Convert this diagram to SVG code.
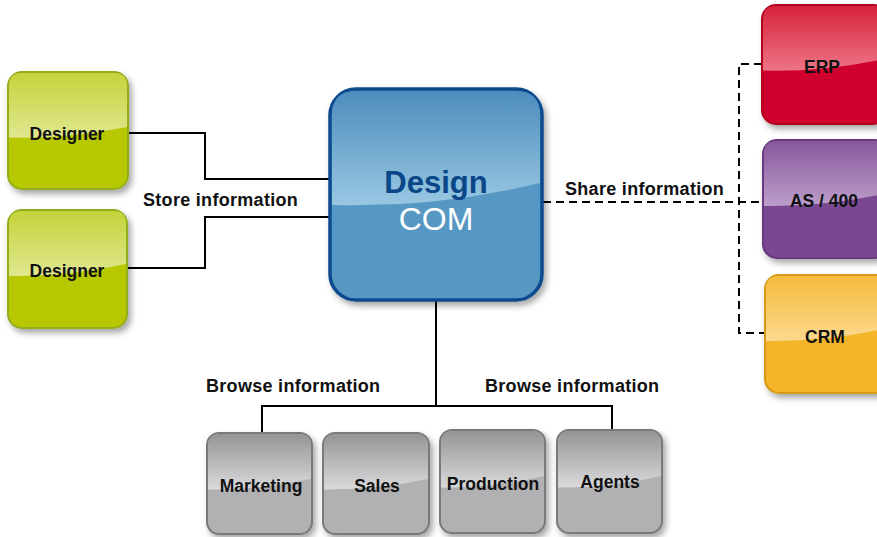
<svg xmlns="http://www.w3.org/2000/svg" width="877" height="537" viewBox="0 0 877 537">
<defs>
<filter id="sh" x="-20%" y="-20%" width="150%" height="150%"><feDropShadow dx="3" dy="4" stdDeviation="3" flood-color="#000" flood-opacity="0.35"/></filter>
<linearGradient id="gG" x1="0" y1="0" x2="0" y2="1"><stop offset="0" stop-color="#c5d33a"/><stop offset="1" stop-color="#e0e790"/></linearGradient>
<linearGradient id="gB" x1="0" y1="0" x2="0" y2="1"><stop offset="0" stop-color="#4d8dbd"/><stop offset="1" stop-color="#98c7e2"/></linearGradient>
<linearGradient id="gR" x1="0" y1="0" x2="0" y2="1"><stop offset="0" stop-color="#d6223c"/><stop offset="1" stop-color="#ec7585"/></linearGradient>
<linearGradient id="gP" x1="0" y1="0" x2="0" y2="1"><stop offset="0" stop-color="#87579c"/><stop offset="1" stop-color="#bc9ecb"/></linearGradient>
<linearGradient id="gO" x1="0" y1="0" x2="0" y2="1"><stop offset="0" stop-color="#f5bb3c"/><stop offset="1" stop-color="#fbd98e"/></linearGradient>
<linearGradient id="gS" x1="0" y1="0" x2="0" y2="1"><stop offset="0" stop-color="#959597"/><stop offset="1" stop-color="#dadadc"/></linearGradient>
<style>
.lbl{font-family:"Liberation Sans",Arial,sans-serif;font-weight:bold;font-size:17.5px;fill:#111;text-anchor:middle}
.cap{font-family:"Liberation Sans",Arial,sans-serif;font-weight:bold;font-size:18px;fill:#111;letter-spacing:0.3px}
.ln{fill:none;stroke:#000;stroke-width:2}
.dl{fill:none;stroke:#000;stroke-width:2;stroke-dasharray:8 5}
.green{fill:#b7c800;stroke:#93ad1c;stroke-width:2}
.red{fill:#d0062e;stroke:#b0001f;stroke-width:2}
.purple{fill:#7a4791;stroke:#69387f;stroke-width:2}
.orange{fill:#f4b52a;stroke:#d79a12;stroke-width:2}
.gray{fill:#b1b1b3;stroke:#7a7a7c;stroke-width:2}
</style>
</defs>
<rect width="877" height="537" fill="#fff"/>

<g id="connectors">
<polyline class="ln" points="128,133 205,133 205,179 331,179"/>
<polyline class="ln" points="127,268 205,268 205,217 331,217"/>
<polyline class="dl" points="543,202 762,202"/>
<polyline class="dl" points="762,64 739,64 739,333 764,333"/>
<polyline class="ln" points="436,300 436,406"/>
<polyline class="ln" points="262,433 262,406 612,406 612,430"/>
<text class="cap" x="143" y="206">Store information</text>
<text class="cap" x="565" y="195">Share information</text>
<text class="cap" x="206" y="392">Browse information</text>
<text class="cap" x="485" y="392">Browse information</text>
</g>

<g id="designer1">
<rect class="green" x="8" y="72" width="120" height="117" rx="14" filter="url(#sh)"/>
<path fill="url(#gG)" d="M9,137.5 V86 Q9,73 22,73 H114 Q127,73 127,86 V127 Q68,139 9,137.5 Z"/>
<text class="lbl" x="67" y="140">Designer</text>
</g>
<g id="designer2">
<rect class="green" x="8" y="210" width="119" height="118" rx="14" filter="url(#sh)"/>
<path fill="url(#gG)" d="M9,276 V224 Q9,211 22,211 H113 Q126,211 126,224 V264 Q67,277 9,276 Z"/>
<text class="lbl" x="67" y="277">Designer</text>
</g>

<g id="designcom">
<rect x="330" y="89" width="212" height="211" rx="26" fill="#5797c3" stroke="#0c4b8e" stroke-width="3.5" filter="url(#sh)"/>
<path fill="url(#gB)" d="M332,205 V115 Q332,91 356,91 H516 Q540,91 540,115 V183 Q436,208 332,205 Z"/>
<text x="436" y="193" text-anchor="middle" font-family="Liberation Sans,Arial,sans-serif" font-weight="bold" font-size="31" fill="#0a4788">Design</text>
<text x="436" y="230" text-anchor="middle" font-family="Liberation Sans,Arial,sans-serif" font-size="32" fill="#fff">COM</text>
</g>

<g id="erp">
<rect class="red" x="762" y="5" width="125" height="119" rx="14" filter="url(#sh)"/>
<path fill="url(#gR)" d="M763,70.5 V19 Q763,6 776,6 H873 Q886,6 886,19 V58.5 Q824,72 763,70.5 Z"/>
<text class="lbl" x="822" y="73">ERP</text>
</g>
<g id="as400">
<rect class="purple" x="763" y="140" width="125" height="118" rx="14" filter="url(#sh)"/>
<path fill="url(#gP)" d="M764,206 V154 Q764,141 777,141 H874 Q887,141 887,154 V193 Q825,207 764,206 Z"/>
<text class="lbl" x="824" y="207">AS / 400</text>
</g>
<g id="crm">
<rect class="orange" x="765" y="275" width="125" height="118" rx="14" filter="url(#sh)"/>
<path fill="url(#gO)" d="M766,341 V289 Q766,276 779,276 H876 Q889,276 889,289 V328 Q827,342 766,341 Z"/>
<text class="lbl" x="825" y="343">CRM</text>
</g>

<g id="marketing">
<rect class="gray" x="207" y="433" width="105" height="101" rx="12" filter="url(#sh)"/>
<path fill="url(#gS)" d="M208,489.5 V446 Q208,434 220,434 H299 Q311,434 311,446 V479 Q259,490 208,489.5 Z"/>
<text class="lbl" x="261" y="492">Marketing</text>
</g>
<g id="sales">
<rect class="gray" x="323" y="433" width="106" height="101" rx="12" filter="url(#sh)"/>
<path fill="url(#gS)" d="M324,489.5 V446 Q324,434 336,434 H416 Q428,434 428,446 V479 Q376,490 324,489.5 Z"/>
<text class="lbl" x="377" y="492">Sales</text>
</g>
<g id="production">
<rect class="gray" x="440" y="430" width="105" height="103" rx="12" filter="url(#sh)"/>
<path fill="url(#gS)" d="M441,487.5 V443 Q441,431 453,431 H532 Q544,431 544,443 V476 Q492,488 441,487.5 Z"/>
<text class="lbl" x="493" y="490">Production</text>
</g>
<g id="agents">
<rect class="gray" x="557" y="430" width="105" height="103" rx="12" filter="url(#sh)"/>
<path fill="url(#gS)" d="M558,487.5 V443 Q558,431 570,431 H649 Q661,431 661,443 V476 Q609,488 558,487.5 Z"/>
<text class="lbl" x="610" y="488">Agents</text>
</g>
</svg>
